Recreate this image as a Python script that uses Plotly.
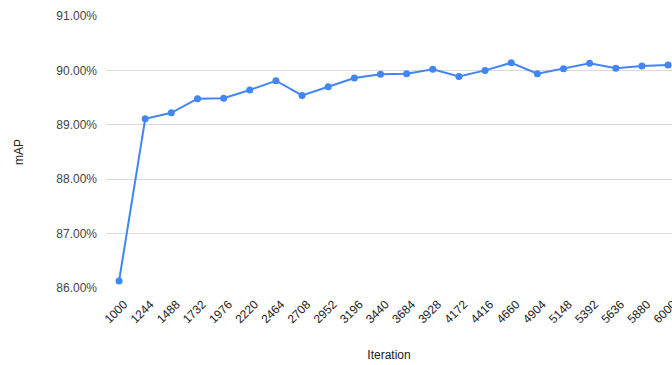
import plotly.graph_objects as go

iterations = ["1000", "1244", "1488", "1732", "1976", "2220", "2464", "2708", "2952", "3196", "3440",
              "3684", "3928", "4172", "4416", "4660", "4904", "5148", "5392", "5636", "5880", "6000"]
map_values = [0.8613, 0.8911, 0.8922, 0.8948, 0.8949, 0.8964, 0.8981, 0.8954, 0.8970, 0.8986, 0.8993,
              0.8994, 0.9002, 0.8989, 0.9000, 0.9014, 0.8994, 0.9003, 0.9013, 0.9004, 0.9008, 0.9010]
y_ticks = [0.86, 0.87, 0.88, 0.89, 0.90, 0.91]

fig = go.Figure()
fig.add_trace(go.Scatter(
    x=list(range(len(iterations))), y=map_values, mode="lines+markers",
    line=dict(color="#4285F4", width=2),
    marker=dict(color="#4285F4", size=7),
    hovertemplate="%{y:.2%}<extra></extra>",
))

font = "Liberation Sans, Arial, sans-serif"
fig.update_layout(
    width=672, height=365,
    margin=dict(l=106, r=0, t=16, b=77, autoexpand=False),
    paper_bgcolor="white", plot_bgcolor="white",
    showlegend=False,
    font=dict(family=font, size=12, color="#222222"),
    xaxis=dict(
        range=[-0.5, 21.15], automargin=False,
        tickmode="array", tickvals=list(range(len(iterations))), ticktext=iterations,
        tickangle=-45, showgrid=False, zeroline=False, showline=False,
        ticklabeloverflow="allow",
        ticklabelstandoff=6, ticklabelshift=5,
        tickfont=dict(size=12, color="#222222"),
        title=dict(text="Iteration", font=dict(size=12, color="#222222"), standoff=25),
    ),
    yaxis=dict(
        range=[0.86, 0.91], automargin=False,
        tickmode="array", tickvals=y_ticks, tickformat=".2%",
        showgrid=True, gridcolor="#d9d9d9", gridwidth=1, zeroline=False, showline=False,
        ticklabelstandoff=8,
        tickfont=dict(size=12, color="#444444"),
        title=dict(text="mAP", font=dict(size=12, color="#222222"), standoff=30),
    ),
)

fig.write_html("out.html")
